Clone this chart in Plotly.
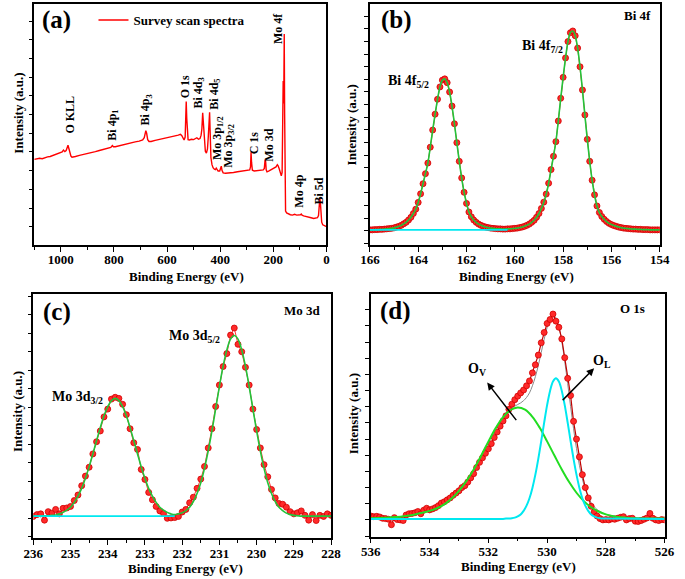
import plotly.graph_objects as go

W, H = 685, 579
FONT = "Liberation Serif"

# ---------------- (a) survey spectrum ----------------
a_be = [1100, 1090, 1080, 1070, 1060, 1050, 1040, 1030, 1020, 1010,
        1000, 995, 990, 985, 980, 976, 973, 970, 966, 962,
        958, 954, 945, 930, 915, 900, 885, 870, 855, 840,
        825, 812, 806, 802, 795, 780, 765, 750, 735, 720,
        705, 692, 686, 683, 680, 677, 673, 668, 660, 645,
        630, 615, 600, 585, 570, 558, 550, 545, 540, 536,
        532, 530, 528, 526, 524, 521, 516, 508, 500, 494,
        488, 482, 476, 472, 469, 466, 463, 460, 456, 452,
        448, 445, 442, 440, 438, 435, 431, 427, 422, 418,
        415, 412, 408, 402, 398, 396, 393, 389, 380, 365,
        350, 335, 320, 305, 295, 289, 286, 284, 282, 279,
        272, 260, 248, 238, 234, 231, 229, 227, 224, 218,
        208, 198, 190, 185, 182, 178, 174, 170, 167, 165,
        163, 161, 159, 157.5, 156, 154, 150, 144, 136, 128,
        120, 112, 104, 98, 95, 92, 86, 78, 68, 58,
        48, 40, 34, 30, 27, 25, 23, 21, 18, 14,
        10, 5, 0]
a_int = [1.80, 1.81, 1.83, 1.82, 1.85, 1.87, 1.88, 1.91, 1.92, 1.95,
         1.98, 2.00, 2.05, 2.01, 2.04, 2.12, 2.18, 2.10, 1.96, 1.89,
         1.86, 1.86, 1.88, 1.91, 1.93, 1.96, 1.99, 2.01, 2.04, 2.07,
         2.10, 2.12, 2.17, 2.14, 2.14, 2.17, 2.19, 2.22, 2.24, 2.27,
         2.29, 2.32, 2.38, 2.48, 2.57, 2.50, 2.33, 2.28, 2.28, 2.31,
         2.33, 2.36, 2.38, 2.41, 2.43, 2.45, 2.47, 2.44, 2.36, 2.32,
         2.40, 2.95, 3.35, 2.90, 2.40, 2.33, 2.32, 2.34, 2.33, 2.35,
         2.38, 2.34, 2.36, 2.45, 2.62, 3.05, 2.75, 2.30, 2.02, 1.97,
         2.08, 2.40, 2.85, 3.06, 2.55, 1.85, 1.66, 1.58, 1.54, 1.53,
         1.57, 1.51, 1.49, 1.49, 1.56, 1.62, 1.50, 1.44, 1.43, 1.43,
         1.45, 1.47, 1.48, 1.50, 1.51, 1.52, 1.60, 1.99, 1.72, 1.51,
         1.49, 1.50, 1.51, 1.52, 1.56, 1.80, 1.74, 1.52, 1.47, 1.49,
         1.53, 1.55, 1.60, 1.66, 1.63, 1.55, 1.44, 1.36, 1.45, 2.60,
         3.90, 3.30, 5.16, 3.00, 0.95, 0.42, 0.37, 0.34, 0.32, 0.31,
         0.33, 0.31, 0.31, 0.32, 0.34, 0.31, 0.29, 0.27, 0.25, 0.24,
         0.22, 0.22, 0.24, 0.30, 0.55, 0.76, 0.65, 0.32, 0.12, 0.05,
         0.03, 0.01, 0.00]
a_labels = ["O KLL", "Bi 4p<sub>1</sub>", "Bi 4p<sub>3</sub>", "O 1s", "Bi 4d<sub>3</sub>",
            "Bi 4d<sub>5</sub>", "Mo 3p<sub>1/2</sub>", "Mo 3p<sub>3/2</sub>", "C 1s",
            "Mo 3d", "Mo 4f", "Mo 4p", "Bi 5d"]
a_label_be = [967, 805, 680, 534, 479, 421, 409, 370, 274, 217, 180, 104, 28]
a_label_y = [2.99, 2.72, 3.13, 3.75, 3.57, 3.55, 2.37, 2.17, 2.25, 2.19, 5.31, 0.96, 0.94]

# ---------------- (b) Bi 4f ----------------
b_be = [166.0, 165.9, 165.8, 165.7, 165.6, 165.5, 165.4, 165.3, 165.2, 165.1,
        165.0, 164.9, 164.8, 164.7, 164.6, 164.5, 164.4, 164.3, 164.2, 164.1,
        164.0, 163.9, 163.8, 163.7, 163.6, 163.5, 163.4, 163.3, 163.2, 163.1,
        163.0, 162.9, 162.8, 162.7, 162.6, 162.5, 162.4, 162.3, 162.2, 162.1,
        162.0, 161.9, 161.8, 161.7, 161.6, 161.5, 161.4, 161.3, 161.2, 161.1,
        161.0, 160.9, 160.8, 160.7, 160.6, 160.5, 160.4, 160.3, 160.2, 160.1,
        160.0, 159.9, 159.8, 159.7, 159.6, 159.5, 159.4, 159.3, 159.2, 159.1,
        159.0, 158.9, 158.8, 158.7, 158.6, 158.5, 158.4, 158.3, 158.2, 158.1,
        158.0, 157.9, 157.8, 157.7, 157.6, 157.5, 157.4, 157.3, 157.2, 157.1,
        157.0, 156.9, 156.8, 156.7, 156.6, 156.5, 156.4, 156.3, 156.2, 156.1,
        156.0, 155.9, 155.8, 155.7, 155.6, 155.5, 155.4, 155.3, 155.2, 155.1,
        155.0, 154.9, 154.8, 154.7, 154.6, 154.5, 154.4, 154.3, 154.2, 154.1,
        154.0]
b_int = [0.03, 0.03, 0.04, 0.04, 0.05, 0.05, 0.06, 0.07, 0.08, 0.09,
         0.11, 0.14, 0.17, 0.21, 0.27, 0.33, 0.42, 0.53, 0.68, 0.85,
         1.12, 1.46, 1.86, 2.26, 2.68, 3.31, 3.99, 4.62, 5.21, 5.70,
         5.97, 6.02, 5.87, 5.50, 4.94, 4.24, 3.49, 2.75, 2.09, 1.52,
         1.08, 0.74, 0.55, 0.42, 0.33, 0.26, 0.21, 0.17, 0.14, 0.12,
         0.10, 0.09, 0.08, 0.07, 0.07, 0.06, 0.06, 0.07, 0.07, 0.08,
         0.09, 0.10, 0.12, 0.14, 0.17, 0.21, 0.26, 0.33, 0.41, 0.53,
         0.68, 0.88, 1.13, 1.45, 1.88, 2.42, 2.95, 3.53, 4.35, 5.25,
         6.08, 6.85, 7.50, 7.85, 7.92, 7.73, 7.24, 6.50, 5.58, 4.59,
         3.62, 2.75, 2.00, 1.42, 0.98, 0.72, 0.56, 0.45, 0.36, 0.29,
         0.24, 0.20, 0.17, 0.14, 0.12, 0.10, 0.09, 0.08, 0.07, 0.06,
         0.06, 0.05, 0.05, 0.04, 0.04, 0.04, 0.03, 0.03, 0.03, 0.03,
         0.03]
b_base_be = [166.0, 160.3]
b_base = [0.03, 0.03]

# ---------------- (c) Mo 3d ----------------
c_be = [236.0, 235.9, 235.8, 235.7, 235.6, 235.5, 235.4, 235.3, 235.2, 235.1,
        235.0, 234.9, 234.8, 234.7, 234.6, 234.5, 234.4, 234.3, 234.2, 234.1,
        234.0, 233.9, 233.8, 233.7, 233.6, 233.5, 233.4, 233.3, 233.2, 233.1,
        233.0, 232.9, 232.8, 232.7, 232.6, 232.5, 232.4, 232.3, 232.2, 232.1,
        232.0, 231.9, 231.8, 231.7, 231.6, 231.5, 231.4, 231.3, 231.2, 231.1,
        231.0, 230.9, 230.8, 230.7, 230.6, 230.5, 230.4, 230.3, 230.2, 230.1,
        230.0, 229.9, 229.8, 229.7, 229.6, 229.5, 229.4, 229.3, 229.2, 229.1,
        229.0, 228.9, 228.8, 228.7, 228.6, 228.5, 228.4, 228.3, 228.2, 228.1,
        228.0]
c_int = [0.05, 0.10, 0.12, -0.05, 0.18, 0.14, 0.24, 0.12, 0.27, 0.28,
         0.32, 0.48, 0.63, 0.88, 1.14, 1.38, 1.74, 2.07, 2.36, 2.74,
         2.95, 3.22, 3.27, 3.24, 3.08, 2.80, 2.42, 2.04, 1.86, 1.32,
         1.05, 0.70, 0.50, 0.32, 0.20, 0.13, 0.00, 0.01, 0.02, 0.05,
         0.17, 0.24, 0.42, 0.57, 0.81, 1.06, 1.40, 1.90, 2.42, 3.02,
         3.60, 4.10, 4.45, 4.95, 5.14, 4.70, 4.50, 4.08, 3.60, 2.95,
         2.40, 1.90, 1.45, 1.12, 0.78, 0.55, 0.40, 0.38, 0.30, 0.18,
         0.12, 0.15, 0.20, 0.08, -0.05, 0.10, -0.06, 0.08, 0.05, 0.12,
         0.08]
c_fit = [0.06, 0.06, 0.06, 0.07, 0.07, 0.08, 0.09, 0.12, 0.16, 0.22,
         0.30, 0.43, 0.60, 0.81, 1.08, 1.39, 1.74, 2.10, 2.45, 2.77,
         3.02, 3.18, 3.24, 3.18, 3.02, 2.77, 2.45, 2.10, 1.74, 1.39,
         1.08, 0.81, 0.60, 0.43, 0.30, 0.22, 0.16, 0.12, 0.10, 0.12,
         0.15, 0.21, 0.30, 0.45, 0.67, 0.96, 1.35, 1.82, 2.36, 2.96,
         3.56, 4.11, 4.55, 4.84, 4.94, 4.84, 4.55, 4.11, 3.56, 2.96,
         2.36, 1.82, 1.35, 0.96, 0.67, 0.45, 0.30, 0.21, 0.14, 0.10,
         0.08, 0.07, 0.06, 0.06, 0.06, 0.06, 0.06, 0.06, 0.06, 0.06,
         0.06]
c_base_be = [236.0, 232.2]
c_base = [0.06, 0.06]

# ---------------- (d) O 1s ----------------
d_be = [536.0, 535.9, 535.8, 535.7, 535.6, 535.5, 535.4, 535.3, 535.2, 535.1,
        535.0, 534.9, 534.8, 534.7, 534.6, 534.5, 534.4, 534.3, 534.2, 534.1,
        534.0, 533.9, 533.8, 533.7, 533.6, 533.5, 533.4, 533.3, 533.2, 533.1,
        533.0, 532.9, 532.8, 532.7, 532.6, 532.5, 532.4, 532.3, 532.2, 532.1,
        532.0, 531.9, 531.8, 531.7, 531.6, 531.5, 531.4, 531.3, 531.2, 531.1,
        531.0, 530.9, 530.8, 530.7, 530.6, 530.5, 530.4, 530.3, 530.2, 530.1,
        530.0, 529.9, 529.8, 529.7, 529.6, 529.5, 529.4, 529.3, 529.2, 529.1,
        529.0, 528.9, 528.8, 528.7, 528.6, 528.5, 528.4, 528.3, 528.2, 528.1,
        528.0, 527.9, 527.8, 527.7, 527.6, 527.5, 527.4, 527.3, 527.2, 527.1,
        527.0, 526.9, 526.8, 526.7, 526.6, 526.5, 526.4, 526.3, 526.2, 526.1,
        526.0]
d_int = [0.12, 0.10, 0.11, 0.09, 0.05, 0.04, 0.02, -0.15, 0.07, 0.01,
         0.00, -0.02, 0.15, 0.19, 0.20, 0.22, 0.26, 0.19, 0.30, 0.36,
         0.31, 0.34, 0.38, 0.44, 0.52, 0.56, 0.62, 0.68, 0.76, 0.83,
         0.90, 1.00, 1.06, 1.17, 1.30, 1.43, 1.62, 1.78, 1.92, 2.06,
         2.20, 2.36, 2.55, 2.72, 2.90, 3.06, 3.22, 3.42, 3.58, 3.72,
         3.83, 3.93, 4.02, 4.15, 4.30, 4.55, 4.80, 5.10, 5.48, 5.80,
         6.08, 6.20, 6.37, 6.15, 5.96, 5.60, 5.02, 4.38, 3.85, 3.05,
         2.50, 1.95, 1.40, 1.00, 0.68, 0.42, 0.24, 0.12, 0.04, 0.00,
         0.01, 0.00, 0.03, 0.02, 0.05, 0.08, 0.10, 0.00, 0.04, 0.05,
         -0.04, -0.05, -0.02, 0.02, 0.06, 0.20, 0.05, 0.00, -0.02, 0.01,
         0.00]
d_ov_be = [536.0, 535.75, 535.5, 535.25, 535.0, 534.75, 534.5, 534.25, 534.0, 533.75,
           533.5, 533.25, 533.0, 532.75, 532.5, 532.25, 532.0, 531.75, 531.5, 531.25,
           531.0, 530.75, 530.5, 530.25, 530.0, 529.75, 529.5, 529.25, 529.0, 528.75,
           528.5, 528.25, 528.0, 527.75, 527.5, 527.25, 527.0, 526.75, 526.5, 526.25,
           526.0]
d_ov = [0.05, 0.06, 0.07, 0.08, 0.10, 0.13, 0.17, 0.22, 0.28, 0.36,
        0.48, 0.66, 0.90, 1.20, 1.56, 1.98, 2.42, 2.84, 3.18, 3.40,
        3.48, 3.41, 3.19, 2.85, 2.43, 1.99, 1.56, 1.17, 0.84, 0.58,
        0.39, 0.26, 0.17, 0.11, 0.08, 0.06, 0.05, 0.04, 0.04, 0.04,
        0.04]
d_ol_be = [536.0, 531.6, 531.5, 531.4, 531.3, 531.2, 531.1, 531.0, 530.9, 530.8,
           530.7, 530.6, 530.5, 530.4, 530.3, 530.2, 530.1, 530.0, 529.9, 529.8,
           529.7, 529.6, 529.5, 529.4, 529.3, 529.2, 529.1, 529.0, 528.9, 528.8,
           528.7, 528.6, 528.5, 528.4, 528.3, 528.2, 528.1, 528.0, 526.0]
d_ol = [0.03, 0.03, 0.03, 0.04, 0.04, 0.05, 0.07, 0.11, 0.17, 0.28,
        0.44, 0.67, 0.99, 1.40, 1.89, 2.44, 3.01, 3.55, 3.99, 4.28,
        4.38, 4.28, 3.99, 3.55, 3.01, 2.44, 1.89, 1.40, 0.99, 0.67,
        0.44, 0.28, 0.17, 0.11, 0.07, 0.05, 0.04, 0.04, 0.03]
d_env_be = [536.0, 535.5, 535.0, 534.5, 534.0, 533.5, 533.0, 532.5, 532.0, 531.5,
            531.4, 531.3, 531.2, 531.1, 531.0, 530.9, 530.8, 530.7, 530.6, 530.5,
            530.4, 530.3, 530.2, 530.1, 530.0, 529.9, 529.8, 529.7, 529.6, 529.5,
            529.4, 529.3, 529.2, 529.1, 529.0, 528.9, 528.8, 528.7, 528.6, 528.5,
            528.4, 528.3, 528.2, 528.1, 528.0, 527.5, 527.0, 526.5, 526.0]
d_env = [0.05, 0.07, 0.10, 0.17, 0.28, 0.48, 0.90, 1.56, 2.42, 3.19,
         3.30, 3.39, 3.46, 3.52, 3.57, 3.62, 3.69, 3.79, 3.93, 4.15,
         4.43, 4.78, 5.18, 5.59, 5.95, 6.22, 6.33, 6.25, 5.98, 5.52,
         4.91, 4.22, 3.51, 2.82, 2.21, 1.69, 1.27, 0.95, 0.71, 0.53,
         0.41, 0.32, 0.26, 0.21, 0.17, 0.10, 0.07, 0.06, 0.05]

# ---------------- styling ----------------
RED = "#ff2a2a"
RED_EDGE = "#d00000"
GREEN = "#22c43a"
CYAN = "#00e8f0"
GREY = "#8a8a8a"


def px(x):
    return x / W


def py(y):
    return 1 - y / H


fig = go.Figure()

# (a)
fig.add_trace(go.Scatter(x=a_be, y=a_int, mode="lines", name="Survey scan spectra",
                         line=dict(color="#ff0000", width=1.4), xaxis="x", yaxis="y",
                         showlegend=True))

marker = dict(color=RED, size=6, line=dict(color=RED_EDGE, width=0.8))

# (b)
fig.add_trace(go.Scatter(x=b_be, y=b_int, mode="markers+lines", marker=marker,
                         line=dict(color="#ff0000", width=0.8),
                         xaxis="x2", yaxis="y2", showlegend=False))
fig.add_trace(go.Scatter(x=b_be, y=b_int, mode="lines", line=dict(color=GREEN, width=1.6, shape="spline"),
                         xaxis="x2", yaxis="y2", showlegend=False))
fig.add_trace(go.Scatter(x=b_base_be, y=b_base, mode="lines", line=dict(color=CYAN, width=1.6),
                         xaxis="x2", yaxis="y2", showlegend=False))

# (c)
fig.add_trace(go.Scatter(x=c_be, y=c_int, mode="markers+lines", marker=marker,
                         line=dict(color="#ff0000", width=0.8),
                         xaxis="x3", yaxis="y3", showlegend=False))
fig.add_trace(go.Scatter(x=c_be, y=c_fit, mode="lines", line=dict(color=GREEN, width=1.6, shape="spline"),
                         xaxis="x3", yaxis="y3", showlegend=False))
fig.add_trace(go.Scatter(x=c_base_be, y=c_base, mode="lines", line=dict(color=CYAN, width=1.6),
                         xaxis="x3", yaxis="y3", showlegend=False))

# (d)
fig.add_trace(go.Scatter(x=d_env_be, y=d_env, mode="lines", line=dict(color=GREY, width=1.0, shape="spline"),
                         xaxis="x4", yaxis="y4", showlegend=False))
fig.add_trace(go.Scatter(x=d_be, y=d_int, mode="markers+lines", marker=marker,
                         line=dict(color="#c00000", width=1.2),
                         xaxis="x4", yaxis="y4", showlegend=False))
fig.add_trace(go.Scatter(x=d_ov_be, y=d_ov, mode="lines", line=dict(color="#22dd22", width=2, shape="spline"),
                         xaxis="x4", yaxis="y4", showlegend=False))
fig.add_trace(go.Scatter(x=d_ol_be, y=d_ol, mode="lines", line=dict(color=CYAN, width=2, shape="spline"),
                         xaxis="x4", yaxis="y4", showlegend=False))

tickfont = dict(family=FONT, size=13, color="black", weight="bold")


def xax(domain, rng, dtick, minor, anchor):
    return dict(domain=domain, range=rng, anchor=anchor, dtick=dtick, tick0=0,
                ticks="outside", ticklen=5, tickwidth=1.3, tickcolor="black",
                minor=dict(dtick=minor, ticks="outside", ticklen=3, tickwidth=1.1, tickcolor="black"),
                showline=True, linecolor="black", linewidth=1.5, mirror=True,
                showgrid=False, zeroline=False, tickfont=tickfont, ticklabelstandoff=-3)


def yax(domain, rng, anchor):
    return dict(domain=domain, range=rng, anchor=anchor, dtick=1, tick0=0,
                ticks="outside", ticklen=4, tickwidth=1.3, tickcolor="black",
                minor=dict(dtick=0.5, ticks="outside", ticklen=4, tickwidth=1.1, tickcolor="black"),
                showline=True, linecolor="black", linewidth=1.5, mirror=True,
                showgrid=False, zeroline=False, showticklabels=False)


row1 = [py(245), py(4)]
fig.update_layout(
    width=W, height=H, margin=dict(l=0, r=0, t=0, b=0),
    paper_bgcolor="white", plot_bgcolor="white",
    xaxis=xax([px(25), px(326)], [1100, 0], 200, 100, "y"),
    yaxis=yax(row1, [-0.49, 5.96], "x"),
    xaxis2=xax([px(370.7), px(669.3)], [166, 154], 2, 1, "y2"),
    yaxis2=yax(row1, [-0.57, 8.99], "x2"),
    xaxis3=xax([px(24), px(330.7)], [236, 228], 1, 0.5, "y3"),
    yaxis3=yax([py(538.3), py(294)], [-0.54, 6.06], "x3"),
    xaxis4=xax([px(371.7), px(674.3)], [536, 526], 2, 1, "y4"),
    yaxis4=yax([py(536.7), py(294)], [-0.52, 6.99], "x4"),
    legend=dict(x=px(86), y=py(20), xanchor="left", yanchor="middle",
                bgcolor="rgba(0,0,0,0)", borderwidth=0,
                font=dict(family=FONT, size=13, color="black", weight="bold")),
)

ann = []


def text_paper(t, x, y, size=13, angle=0):
    ann.append(dict(text=t, x=px(x), y=py(y), xref="paper", yref="paper", showarrow=False,
                    xanchor="center", yanchor="middle", textangle=angle,
                    font=dict(family=FONT, size=size, color="black", weight="bold")))


def text_data(t, x, y, xr, yr, size=13, angle=0):
    ann.append(dict(text=t, x=x, y=y, xref=xr, yref=yr, showarrow=False,
                    xanchor="center", yanchor="middle", textangle=angle,
                    font=dict(family=FONT, size=size, color="black", weight="bold")))


# axis titles
for (xc, yc) in [(181.7, 276.7), (521.7, 276.7), (180.7, 568.3), (524.3, 566.7)]:
    text_paper("Binding Energy (eV)", xc, yc, 13)
for (xc, yc) in [(9, 113), (351.7, 125), (7.3, 412), (353.3, 413.3)]:
    text_paper("Intensity (a.u.)", xc, yc, 13, -90)

# panel tags
text_paper("(a)", 48.3, 20, 25)
text_paper("(b)", 398.3, 20, 25)
text_paper("(c)", 48.3, 311.7, 25)
text_paper("(d)", 396.7, 310.7, 25)

# corner labels
text_paper("Bi 4f", 646.7, 16, 13)
text_paper("Mo 3d", 301.7, 310, 13)
text_paper("O 1s", 641.7, 308.3, 13)

# survey peak labels
for t, xb, yv in zip(a_labels, a_label_be, a_label_y):
    text_data(t, xb, yv, "x", "y", 12, -90)

# b, c peak labels
text_data("Bi 4f<sub>7/2</sub>", 158.86, 7.30, "x2", "y2", 14)
text_data("Bi 4f<sub>5/2</sub>", 164.42, 5.91, "x2", "y2", 14)
text_data("Mo 3d<sub>5/2</sub>", 231.67, 4.91, "x3", "y3", 14)
text_data("Mo 3d<sub>3/2</sub>", 234.8, 3.27, "x3", "y3", 14)

# d labels + arrows
text_data("O<sub>V</sub>", 532.37, 4.64, "x4", "y4", 14)
text_data("O<sub>L</sub>", 528.13, 4.90, "x4", "y4", 14)
ann.append(dict(x=532.04, y=4.25, ax=531.01, ay=3.04, xref="x4", yref="y4", axref="x4", ayref="y4",
                text="", showarrow=True, arrowhead=2, arrowsize=1, arrowwidth=1.5, arrowcolor="black"))
ann.append(dict(x=528.40, y=4.69, ax=529.52, ay=3.66, xref="x4", yref="y4", axref="x4", ayref="y4",
                text="", showarrow=True, arrowhead=2, arrowsize=1, arrowwidth=1.5, arrowcolor="black"))

fig.update_layout(annotations=ann)
fig.write_html("out.html", config={"displayModeBar": False},
               post_script="document.body.style.margin='0px';")
